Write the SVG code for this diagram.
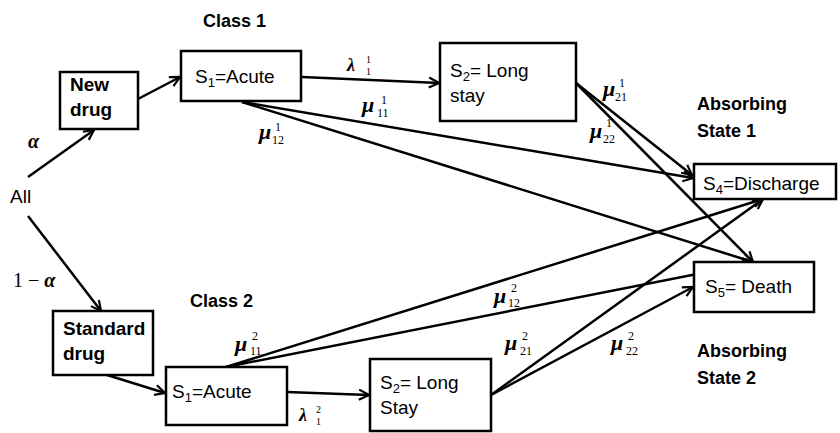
<svg xmlns="http://www.w3.org/2000/svg" width="840" height="433" viewBox="0 0 840 433">
<style>
.box{fill:#fff;stroke:#000;stroke-width:2.5}
.lbl{font-family:"Liberation Sans",Arial,sans-serif;font-size:19px;fill:#000}
.b{font-weight:bold}
.hd{font-family:"Liberation Sans",Arial,sans-serif;font-size:18px;font-weight:bold;fill:#000}
.sub{font-size:13px}
.m{font-family:"Liberation Serif","Times New Roman",serif;font-size:22px;font-weight:bold;font-style:italic;fill:#000}
.d{font-family:"Liberation Serif","Times New Roman",serif;font-size:12px;fill:#000}
.ld{font-family:"Liberation Serif","Times New Roman",serif;font-size:10px;fill:#000}
.conn path{fill:none;stroke:#000;stroke-width:2.5;marker-end:url(#ah)}
</style>
<defs>
<marker id="ah" markerUnits="userSpaceOnUse" markerWidth="14" markerHeight="14" refX="12" refY="7" orient="auto">
<path d="M2,2 L12,7 L2,12" fill="none" stroke="#000" stroke-width="2.2"/>
</marker>
</defs>
<rect width="840" height="433" fill="#fff"/>
<g class="conn" id="connectors">
<path d="M28,177 L94,130"/>
<path d="M138,99 L180,77"/>
<path d="M302,77 L439,83"/>
<path d="M242,102 L693,178"/>
<path d="M242,102 L753,262"/>
<path d="M576,83 L692,175"/>
<path d="M576,83 L753,262"/>
<path d="M226,367 L763,199"/>
<path d="M226,367 L753,263"/>
<path d="M491,395 L763,199"/>
<path d="M491,395 L693,287"/>
<path d="M107,375 L165,393"/>
<path d="M287,392 L369,395"/>
<path d="M28,216 L101,311"/>
</g>
<g id="newdrug"><rect class="box" x="60" y="72" width="78" height="57"/><text class="lbl b" x="70" y="91">New</text><text class="lbl b" x="70" y="116">drug</text></g>
<g id="s1c1"><rect class="box" x="181" y="51" width="120" height="50"/><text class="lbl" x="195" y="83">S<tspan class="sub" dy="4">1</tspan><tspan dy="-4">=Acute</tspan></text></g>
<g id="s2c1"><rect class="box" x="440" y="43" width="136" height="78"/><text class="lbl" x="450" y="77">S<tspan class="sub" dy="4">2</tspan><tspan dy="-4">= Long</tspan></text><text class="lbl" x="450" y="102">stay</text></g>
<g id="s4"><rect class="box" x="694" y="164" width="142" height="35"/><text class="lbl" x="703" y="190">S<tspan class="sub" dy="4">4</tspan><tspan dy="-4">=Discharge</tspan></text></g>
<g id="s5"><rect class="box" x="694" y="262" width="120" height="50"/><text class="lbl" x="705" y="293">S<tspan class="sub" dy="4">5</tspan><tspan dy="-4">= Death</tspan></text></g>
<g id="stddrug"><rect class="box" x="53" y="311" width="100" height="64"/><text class="lbl b" x="63" y="335">Standard</text><text class="lbl b" x="63" y="360">drug</text></g>
<g id="s1c2"><rect class="box" x="166" y="367" width="121" height="58"/><text class="lbl" x="172" y="398">S<tspan class="sub" dy="4">1</tspan><tspan dy="-4">=Acute</tspan></text></g>
<g id="s2c2"><rect class="box" x="370" y="359" width="121" height="72"/><text class="lbl" x="380" y="389">S<tspan class="sub" dy="4">2</tspan><tspan dy="-4">= Long</tspan></text><text class="lbl" x="380" y="414">Stay</text></g>
<g id="labels">
<text class="hd" x="203" y="27">Class 1</text>
<text class="hd" x="190" y="307">Class 2</text>
<text class="hd" x="697" y="110">Absorbing</text>
<text class="hd" x="697" y="137">State 1</text>
<text class="hd" x="697" y="357">Absorbing</text>
<text class="hd" x="697" y="384">State 2</text>
<text class="lbl" x="10" y="203">All</text>
<text class="m" x="28" y="148" style="font-size:20px">α</text>
<text class="m" x="13" y="287" style="font-style:normal;font-weight:normal;font-size:20px">1 − <tspan style="font-style:italic;font-weight:bold">α</tspan></text>
<text class="m" x="347" y="71" style="font-size:18px">λ</text><text class="ld" x="366" y="63">1</text><text class="ld" x="366" y="75">1</text>
<text class="m" x="299" y="421" style="font-size:18px">λ</text><text class="ld" x="316" y="413">2</text><text class="ld" x="316" y="425">1</text>
<text class="m" x="362" y="112">μ</text><text class="d" x="381" y="104">1</text><text class="d" x="377" y="117">11</text>
<text class="m" x="259" y="139">μ</text><text class="d" x="275" y="131">1</text><text class="d" x="272" y="144">12</text>
<text class="m" x="603" y="96">μ</text><text class="d" x="619" y="87">1</text><text class="d" x="615" y="101">21</text>
<text class="m" x="590" y="138">μ</text><text class="d" x="606" y="127">1</text><text class="d" x="603" y="143">22</text>
<text class="m" x="235" y="351">μ</text><text class="d" x="252" y="340">2</text><text class="d" x="250" y="355">11</text>
<text class="m" x="494" y="303">μ</text><text class="d" x="511" y="292">2</text><text class="d" x="508" y="307">12</text>
<text class="m" x="505" y="350">μ</text><text class="d" x="522" y="340">2</text><text class="d" x="520" y="355">21</text>
<text class="m" x="611" y="350">μ</text><text class="d" x="628" y="340">2</text><text class="d" x="626" y="355">22</text>
</g>
</svg>
